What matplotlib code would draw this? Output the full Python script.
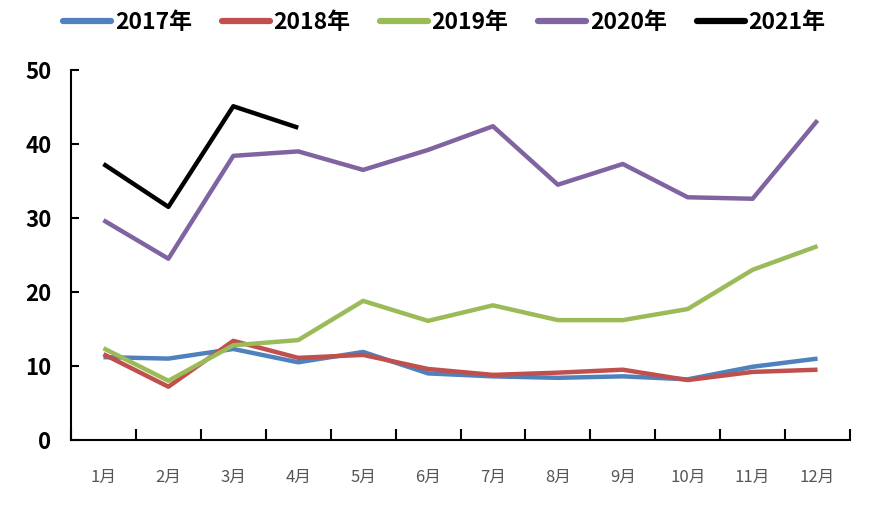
import matplotlib.pyplot as plt

plt.rcParams['font.family'] = ['Noto Sans CJK SC', 'DejaVu Sans']

months = ['1月', '2月', '3月', '4月', '5月', '6月', '7月', '8月', '9月', '10月', '11月', '12月']

y2017 = [11.2, 11.0, 12.3, 10.5, 11.9, 9.0, 8.6, 8.4, 8.6, 8.2, 9.9, 11.0]
y2018 = [11.6, 7.2, 13.4, 11.1, 11.5, 9.6, 8.8, 9.1, 9.5, 8.1, 9.2, 9.5]
y2019 = [12.4, 8.0, 12.8, 13.5, 18.8, 16.1, 18.2, 16.2, 16.2, 17.7, 23.0, 26.2]
y2020 = [29.7, 24.5, 38.4, 39.0, 36.5, 39.2, 42.4, 34.5, 37.3, 32.8, 32.6, 43.2]
y2021 = [37.3, 31.5, 45.1, 42.2]

series = [('2017年', y2017, '#4F81BD'),
          ('2018年', y2018, '#C0504D'),
          ('2019年', y2019, '#9BBB59'),
          ('2020年', y2020, '#8064A2'),
          ('2021年', y2021, '#000000')]

fig = plt.figure(figsize=(8.71, 5.05), dpi=100)
ax = fig.add_axes([71/871, 65/505, 779/871, 370/505])

x = list(range(len(months)))
for name, vals, col in series:
    ax.plot(x[:len(vals)], vals, color=col, lw=3.2, label=name, solid_capstyle='butt')

ax.set_xlim(-0.5, 11.5)
ax.set_ylim(0, 50)
ax.set_yticks([0, 10, 20, 30, 40, 50])
ax.tick_params(axis='y', direction='in', length=6, width=1.5, labelsize=16, pad=14)
for lab in ax.get_yticklabels():
    lab.set_fontweight('bold')

# x ticks at category boundaries, labels at centers
ax.set_xticks([i - 0.5 for i in range(13)])
ax.set_xticklabels([])
ax.tick_params(axis='x', direction='in', length=8, width=1.5)
for i, m in enumerate(months):
    ax.text(i, -3.9, m, ha='center', va='top', fontsize=12, color='#555555')

for s in ['top', 'right']:
    ax.spines[s].set_visible(False)
for s in ['left', 'bottom']:
    ax.spines[s].set_linewidth(1.5)

leg = fig.legend(loc='upper center', bbox_to_anchor=(0.51, 1.02), ncol=5, frameon=False,
                 prop={'size': 16.5, 'weight': 'bold'}, handlelength=2.1, handletextpad=0.15,
                 columnspacing=1.3)
for h in leg.get_lines():
    h.set_linewidth(4.5)
    h.set_solid_capstyle('round')

fig.savefig('out.png', dpi=100)
